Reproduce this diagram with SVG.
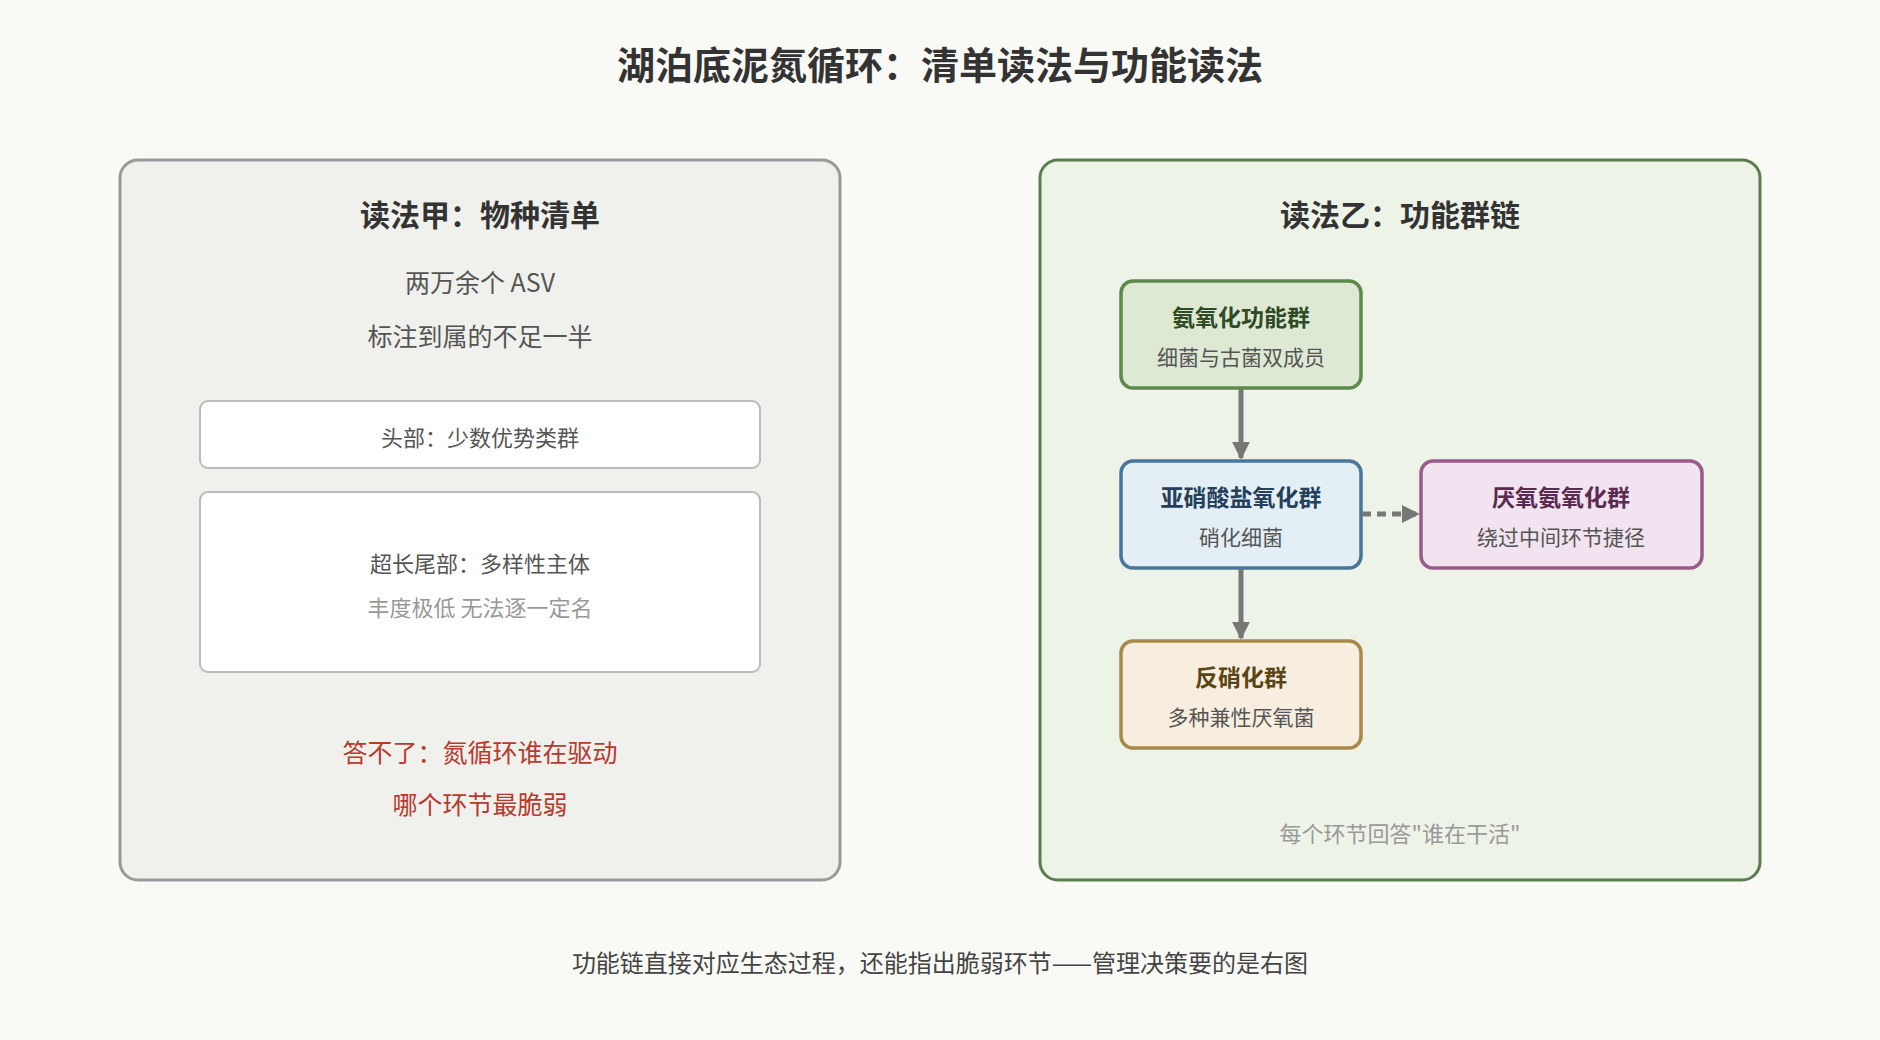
<svg xmlns="http://www.w3.org/2000/svg" width="1880" height="1040" viewBox="0 0 1880 1040">
<style>
text{font-family:"Noto Sans CJK SC","Liberation Sans",sans-serif;text-anchor:middle;dominant-baseline:central}
.h{font-weight:bold;font-size:30px;fill:#333}
.t{font-size:25px;fill:#555}
.s{font-size:22px;fill:#555}
.g{font-size:22px;fill:#999}
.r{font-size:25px;fill:#b83a2e}
.nt{font-weight:bold;font-size:23px}
.ns{font-size:21px;fill:#555}
.box{fill:#fff;stroke:#bbb;stroke-width:2}
.ar{stroke:#777;stroke-width:5;fill:none}
</style>
<defs>
<marker id="ah" viewBox="0 0 10 10" refX="9" refY="5" markerWidth="3.6" markerHeight="3.6" orient="auto"><path d="M0,0L10,5L0,10z" fill="#777"/></marker>
</defs>
<rect width="1880" height="1040" fill="#f9f9f6"/>
<text x="940" y="62" style="font-weight:bold;font-size:38px;fill:#333">湖泊底泥氮循环：清单读法与功能读法</text>
<g id="left">
<rect x="120" y="160" width="720" height="720" rx="18" fill="#f0f0ec" stroke="#999" stroke-width="3"/>
<text x="480" y="213" class="h">读法甲：物种清单</text>
<text x="480" y="281" class="t">两万余个 ASV</text>
<text x="480" y="335" class="t">标注到属的不足一半</text>
</g>
<g id="head"><rect x="200" y="401" width="560" height="67" rx="8" class="box"/><text x="480" y="436" class="s">头部：少数优势类群</text></g>
<g id="tail"><rect x="200" y="492" width="560" height="180" rx="8" class="box"/><text x="480" y="562" class="s">超长尾部：多样性主体</text><text x="480" y="606" class="g">丰度极低 无法逐一定名</text></g>
<g id="leftq"><text x="480" y="751" class="r">答不了：氮循环谁在驱动</text><text x="480" y="803" class="r">哪个环节最脆弱</text></g>
<g id="right">
<rect x="1040" y="160" width="720" height="720" rx="18" fill="#eef3e8" stroke="#5a7f4e" stroke-width="3"/>
<text x="1400" y="213" class="h">读法乙：功能群链</text>
<text x="1400" y="832" class="g">每个环节回答"谁在干活"</text>
</g>
<g id="n1"><rect x="1121" y="281" width="240" height="107" rx="12" fill="#dde9d2" stroke="#5b8a4a" stroke-width="3.5"/><text x="1241" y="316" class="nt" fill="#2f4a25">氨氧化功能群</text><text x="1241" y="356" class="ns">细菌与古菌双成员</text></g>
<g id="n2"><rect x="1121" y="461" width="240" height="107" rx="12" fill="#e3eef5" stroke="#4a7799" stroke-width="3.5"/><text x="1241" y="496" class="nt" fill="#24405a">亚硝酸盐氧化群</text><text x="1241" y="536" class="ns">硝化细菌</text></g>
<g id="n3"><rect x="1421" y="461" width="281" height="107" rx="12" fill="#f1e3ef" stroke="#9a5a8a" stroke-width="3.5"/><text x="1561" y="496" class="nt" fill="#5a2a50">厌氧氨氧化群</text><text x="1561" y="536" class="ns">绕过中间环节捷径</text></g>
<g id="n4"><rect x="1121" y="641" width="240" height="107" rx="12" fill="#f7eedf" stroke="#a8894a" stroke-width="3.5"/><text x="1241" y="676" class="nt" fill="#5a4515">反硝化群</text><text x="1241" y="716" class="ns">多种兼性厌氧菌</text></g>
<g id="connectors">
<line x1="1241" y1="389" x2="1241" y2="458" class="ar" marker-end="url(#ah)"/>
<line x1="1241" y1="569" x2="1241" y2="638" class="ar" marker-end="url(#ah)"/>
<line x1="1362" y1="514" x2="1418" y2="514" class="ar" stroke-dasharray="9 6" marker-end="url(#ah)"/>
</g>
<text x="940" y="961" style="font-size:24px;fill:#444">功能链直接对应生态过程，还能指出脆弱环节——管理决策要的是右图</text>
</svg>
